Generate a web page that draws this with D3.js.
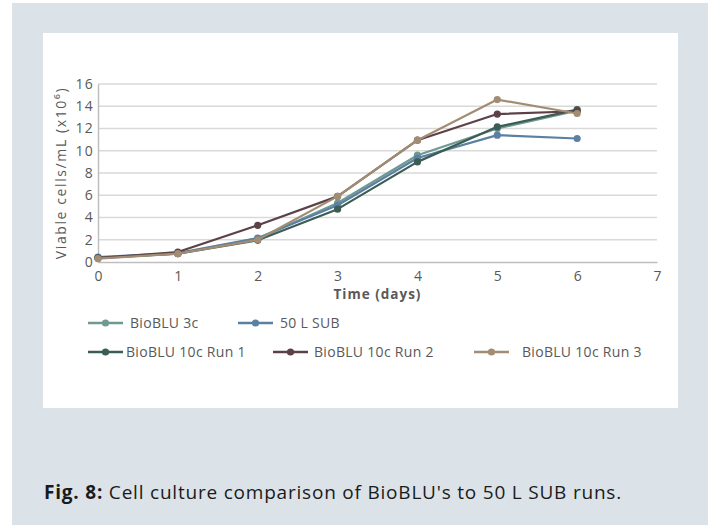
<!DOCTYPE html>
<html><head><meta charset="utf-8">
<script src="https://cdn.jsdelivr.net/npm/d3@7"></script>
<style>
html,body{margin:0;padding:0;background:#fff;}
svg{display:block;}
</style></head>
<body>
<svg id="chart" width="715" height="528"></svg>
<script>
const days = [0, 1, 2, 3, 4, 5, 6];
const seriesNames = ["BioBLU 3c", "50 L SUB", "BioBLU 10c Run 1", "BioBLU 10c Run 2", "BioBLU 10c Run 3"];
const bioblu3c = [0.4, 0.75, 2.1, 5.3, 9.6, 12.0, 13.6];
const sub50L  = [0.45, 0.8, 2.15, 5.1, 9.35, 11.4, 11.1];
const run1    = [0.35, 0.75, 1.95, 4.75, 9.0, 12.15, 13.7];
const run2    = [0.35, 0.9, 3.3, 5.9, 10.95, 13.3, 13.55];
const run3    = [0.3, 0.75, 2.0, 5.9, 10.95, 14.6, 13.35];
const seriesColors = ["#6f9a91", "#5b80a3", "#3c5d55", "#5c4147", "#a28d74"];
const xTicks = [0, 1, 2, 3, 4, 5, 6, 7];
const yTicks = [0, 2, 4, 6, 8, 10, 12, 14, 16];
const xTitle = "Time (days)";
const yTitle = "Viable cells/mL (x10⁶)";
const captionBold = "Fig. 8:";
const captionText = " Cell culture comparison of BioBLU's to 50 L SUB runs.";

const allValues = [bioblu3c, sub50L, run1, run2, run3];
const series = seriesNames.map((n, i) => ({name: n, color: seriesColors[i], values: allValues[i].map((v, j) => ({x: days[j], y: v}))}));

const svg = d3.select("#chart");
const font = "'Open Sans', 'Noto Sans', sans-serif";

// backgrounds
svg.append("rect").attr("x", 12).attr("y", 3).attr("width", 696).attr("height", 522).attr("fill", "#dbe3e9");
svg.append("rect").attr("x", 43).attr("y", 33).attr("width", 635).attr("height", 375).attr("fill", "#ffffff");

const x = d3.scaleLinear().domain([0, 7]).range([98, 657]);
const y = d3.scaleLinear().domain([0, 16]).range([262, 84]);

// gridlines
const grid = svg.append("g");
grid.selectAll("line").data(yTicks.filter(t => t > 0)).join("line")
  .attr("x1", x(0)).attr("x2", x(7))
  .attr("y1", d => y(d)).attr("y2", d => y(d))
  .attr("stroke", "#d9d9d9").attr("stroke-width", 1.5);

// x axis
const xAxis = svg.append("g").attr("transform", `translate(0,${y(0)})`)
  .call(d3.axisBottom(x).tickValues(xTicks).tickSize(0).tickPadding(9).tickFormat(d3.format("d")));
xAxis.select(".domain").attr("stroke", "#bfbfbf").attr("stroke-width", 1.5);
xAxis.selectAll("text").attr("font-family", font).attr("font-size", 14).attr("fill", "#595959");

// y axis
const yAxis = svg.append("g").attr("transform", `translate(${x(0)},0)`)
  .call(d3.axisLeft(y).tickValues(yTicks).tickSize(0).tickPadding(4).tickFormat(d3.format("d")));
yAxis.select(".domain").attr("stroke", "#bfbfbf").attr("stroke-width", 1.5);
yAxis.selectAll("text").attr("font-family", font).attr("font-size", 14)
  .attr("letter-spacing", 1.2).attr("fill", "#595959");

// titles
svg.append("text").attr("x", (x(0) + x(7)) / 2).attr("y", 299)
  .attr("text-anchor", "middle").attr("font-family", font).attr("font-size", 13.5)
  .attr("letter-spacing", 1).attr("font-weight", "bold").attr("fill", "#595959").text(xTitle);
svg.append("text").attr("transform", `translate(66,${(y(0) + y(16)) / 2}) rotate(-90)`)
  .attr("text-anchor", "middle").attr("font-family", font).attr("font-size", 14)
  .attr("letter-spacing", 1.6).attr("fill", "#595959").text(yTitle);

// lines
const line = d3.line().x(d => x(d.x)).y(d => y(d.y));
const sg = svg.append("g").selectAll("g").data(series).join("g");
sg.append("path").attr("d", d => line(d.values)).attr("fill", "none")
  .attr("stroke", d => d.color).attr("stroke-width", 2.2).attr("stroke-linejoin", "round");
sg.selectAll("circle").data(d => d.values.map(v => ({...v, color: d.color}))).join("circle")
  .attr("cx", d => x(d.x)).attr("cy", d => y(d.y)).attr("r", 3.6).attr("fill", d => d.color);

// legend
const legendPos = [
  {lx: 88, ly: 323, tx: 130},
  {lx: 238, ly: 323, tx: 280},
  {lx: 88, ly: 352, tx: 126},
  {lx: 273, ly: 352, tx: 314},
  {lx: 474, ly: 352, tx: 522}
];
const lg = svg.append("g").selectAll("g").data(series).join("g");
lg.append("line").attr("x1", (d, i) => legendPos[i].lx).attr("x2", (d, i) => legendPos[i].lx + 35)
  .attr("y1", (d, i) => legendPos[i].ly).attr("y2", (d, i) => legendPos[i].ly)
  .attr("stroke", d => d.color).attr("stroke-width", 2.5);
lg.append("circle").attr("cx", (d, i) => legendPos[i].lx + 17.5).attr("cy", (d, i) => legendPos[i].ly)
  .attr("r", 3.6).attr("fill", d => d.color);
lg.append("text").attr("x", (d, i) => legendPos[i].tx).attr("y", (d, i) => legendPos[i].ly + 5)
  .attr("font-family", font).attr("font-size", 14).attr("letter-spacing", 0.3)
  .attr("fill", "#595959").text(d => d.name);

// caption
const cap = svg.append("text").attr("x", 44).attr("y", 499)
  .attr("font-family", font).attr("font-size", 19).attr("fill", "#1a1a1a");
cap.append("tspan").attr("font-weight", "bold").text(captionBold);
cap.append("tspan").text(captionText);
const natural = cap.node().getComputedTextLength();
const nChars = (captionBold + captionText).length;
cap.attr("letter-spacing", Math.max(0, (578 - natural) / nChars));
</script>
</body></html>
